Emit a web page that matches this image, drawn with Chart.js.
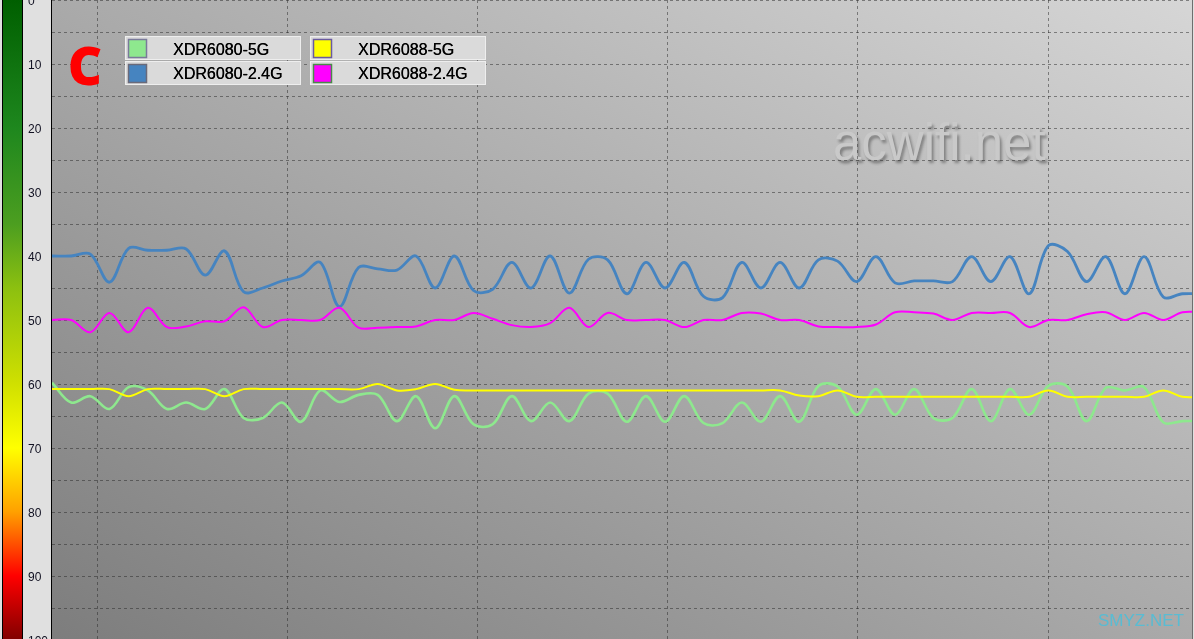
<!DOCTYPE html>
<html>
<head>
<meta charset="utf-8">
<title>Signal strength</title>
<script src="https://cdn.jsdelivr.net/npm/chart.js@4.4.1/dist/chart.umd.min.js"></script>
<style>
  html, body { margin: 0; padding: 0; background: #e0e0e0; overflow: hidden; }
  #wrap { width: 1194px; height: 639px; overflow: hidden; }
  canvas { display: block; }
</style>
</head>
<body>
<div id="wrap"><canvas id="signal-chart" width="1194" height="640"></canvas></div>
<script>
// Sample number along the x axis (one scan each)
const samples = [0, 1, 2, 3, 4, 5, 6, 7, 8, 9, 10, 11, 12, 13, 14, 15, 16, 17, 18, 19,
  20, 21, 22, 23, 24, 25, 26, 27, 28, 29, 30, 31, 32, 33, 34, 35, 36, 37, 38, 39,
  40, 41, 42, 43, 44, 45, 46, 47, 48, 49, 50, 51, 52, 53, 54, 55, 56, 57, 58, 59, 60];

// Signal level (-dBm)
const xdr6080_5g = [59.8, 62.9, 61.9, 63.9, 60.5, 61.0, 63.9, 62.9, 63.9, 60.8,
  65.3, 65.3, 62.9, 65.9, 61.0, 62.8, 61.7, 61.7, 65.8, 61.9,
  66.9, 61.9, 66.3, 66.3, 61.9, 65.8, 62.9, 65.8, 61.5, 61.5,
  65.9, 61.9, 65.9, 61.9, 66.1, 66.1, 62.9, 65.9, 61.9, 65.9,
  60.3, 60.4, 64.8, 60.8, 64.8, 60.8, 65.3, 65.3, 60.8, 65.8,
  60.8, 64.8, 60.3, 60.4, 65.8, 60.6, 61.0, 60.5, 66.0, 65.8, 65.8];

const xdr6080_24g = [40.0, 40.0, 39.7, 44.1, 38.8, 39.1, 39.1, 38.9, 43.0, 39.2,
  45.6, 45.0, 43.9, 43.1, 41.0, 47.9, 41.8, 42.0, 42.2, 40.0,
  45.0, 40.0, 45.4, 45.2, 41.0, 45.0, 40.0, 45.8, 40.5, 40.6,
  45.9, 41.0, 45.0, 41.0, 46.3, 46.5, 41.0, 45.0, 41.0, 45.0,
  40.6, 40.8, 44.0, 40.1, 44.2, 43.9, 43.9, 44.0, 40.1, 44.0,
  40.1, 45.9, 38.4, 39.3, 44.0, 40.1, 45.9, 40.1, 46.4, 45.9, 45.9];

const xdr6088_5g = [60.8, 60.8, 60.8, 60.8, 61.9, 60.8, 60.8, 60.8, 60.8, 61.9,
  60.8, 60.8, 60.8, 60.8, 60.8, 60.8, 60.8, 60.0, 61.0, 60.8,
  60.0, 60.9, 61.0, 61.0, 61.0, 61.0, 61.0, 61.0, 61.0, 61.0,
  61.0, 61.0, 61.0, 61.0, 61.0, 61.0, 61.0, 61.0, 61.0, 61.8,
  61.9, 61.0, 62.0, 62.0, 62.0, 62.0, 62.0, 62.0, 62.0, 62.0,
  62.0, 62.0, 61.0, 62.0, 62.0, 62.0, 62.0, 62.0, 61.0, 62.0, 62.0];

const xdr6088_24g = [50.0, 50.0, 51.9, 48.9, 51.9, 48.1, 51.1, 51.0, 50.2, 50.2,
  48.0, 51.1, 50.0, 50.0, 50.0, 48.1, 51.2, 51.2, 51.1, 51.0,
  50.0, 50.0, 48.9, 49.8, 50.8, 51.1, 50.5, 48.1, 51.1, 48.9,
  50.0, 50.0, 50.0, 51.1, 50.0, 50.0, 48.9, 49.0, 50.0, 50.0,
  51.0, 51.1, 51.1, 50.7, 48.8, 48.8, 49.0, 50.0, 48.9, 48.9,
  48.9, 51.1, 50.0, 50.0, 49.1, 48.8, 50.0, 48.9, 50.0, 48.8, 48.8];

const seriesNames = ['XDR6080-5G', 'XDR6080-2.4G', 'XDR6088-5G', 'XDR6088-2.4G'];

// Axis ticks
const yGridValues = [0, 5, 10, 15, 20, 25, 30, 35, 40, 45, 50, 55, 60, 65, 70, 75, 80, 85, 90, 95, 100];
const yTickLabels = [0, 10, 20, 30, 40, 50, 60, 70, 80, 90, 100];
const xGridValues = [2.35, 12.27, 22.19, 32.11, 42.04, 52.01];

const FONT = "'Liberation Sans', Arial, sans-serif";

function makeLine(label, data, color, width, order) {
  return {
    label: label,
    data: data,
    borderColor: color,
    backgroundColor: color,
    borderWidth: width,
    pointRadius: 0,
    pointHoverRadius: 0,
    tension: 0.35,
    fill: false,
    order: order
  };
}

// Background: level bar, grey panel, shaded plot and watermark
const backdrop = {
  id: 'backdrop',
  beforeDraw(chart) {
    const ctx = chart.ctx;
    const a = chart.chartArea;
    ctx.save();
    ctx.fillStyle = '#e0e0e0';
    ctx.fillRect(0, 0, chart.width, chart.height);

    // colour scale bar on the far left
    const bar = ctx.createLinearGradient(0, 0, 0, 640);
    bar.addColorStop(0, '#005f00');
    bar.addColorStop(0.2, '#1e871e');
    bar.addColorStop(0.35, '#4c9e20');
    bar.addColorStop(0.45, '#8cc010');
    bar.addColorStop(0.6, '#d0e000');
    bar.addColorStop(0.7, '#ffff00');
    bar.addColorStop(0.8, '#ffa000');
    bar.addColorStop(0.9, '#ff0000');
    bar.addColorStop(1, '#800000');
    ctx.fillStyle = bar;
    ctx.fillRect(2, 0, 21, 640);
    ctx.strokeStyle = '#000';
    ctx.lineWidth = 1;
    ctx.strokeRect(2.5, -1, 20, 642);

    // diagonal shading of the plot area
    const w = a.right - a.left, h = a.bottom - a.top;
    const cx = (a.left + a.right) / 2, cy = (a.top + a.bottom) / 2;
    const k = (w * h) / (w * w + h * h);
    const bg = ctx.createLinearGradient(cx - k * h, cy + k * w, cx + k * h, cy - k * w);
    bg.addColorStop(0, '#7d7d7d');
    bg.addColorStop(1, '#d6d6d6');
    ctx.fillStyle = bg;
    ctx.fillRect(a.left, a.top, w, h);

    // watermark
    ctx.font = '51px ' + FONT;
    ctx.textBaseline = 'alphabetic';
    ctx.textAlign = 'left';
    ctx.shadowColor = 'rgba(60,60,60,0.5)';
    ctx.shadowOffsetX = 2;
    ctx.shadowOffsetY = 3;
    ctx.shadowBlur = 3;
    ctx.fillStyle = '#c9c9c9';
    ctx.fillText('acwifi.net', 833, 160);
    ctx.restore();
  },
  afterDraw(chart) {
    const ctx = chart.ctx;
    const a = chart.chartArea;
    ctx.save();
    // plot frame
    ctx.strokeStyle = '#000';
    ctx.lineWidth = 1;
    ctx.beginPath();
    ctx.moveTo(a.left - 0.5, 0);
    ctx.lineTo(a.left - 0.5, chart.height);
    ctx.stroke();
    ctx.strokeStyle = '#6e6e6e';
    ctx.beginPath();
    ctx.moveTo(a.right + 0.5, 0);
    ctx.lineTo(a.right + 0.5, chart.height);
    ctx.stroke();

    // big red letter
    ctx.fillStyle = '#ff0000';
    ctx.font = "800 53px 'Open Sans', " + FONT;
    ctx.textAlign = 'center';
    ctx.textBaseline = 'alphabetic';
    ctx.fillText('C', 85, 85);

    // legend, two columns of two rows
    const cols = [{ box: 125, sw: 128, text: 173 }, { box: 310, sw: 313, text: 358 }];
    const rows = [{ top: 36, base: 55 }, { top: 61, base: 79 }];
    const swatchEdge = ['#7a7a9a', '#6a6a7a', '#6a5aa0', '#4a8a4a'];
    const boxW = 176, boxH = 24;
    chart.data.datasets.forEach((ds, i) => {
      const c = cols[Math.floor(i / 2)];
      const r = rows[i % 2];
      ctx.fillStyle = '#dadada';
      ctx.fillRect(c.box, r.top, boxW, boxH);
      ctx.strokeStyle = '#eeeeee';
      ctx.strokeRect(c.box + 0.5, r.top + 0.5, boxW - 1, boxH - 1);
      ctx.fillStyle = ds.borderColor;
      ctx.fillRect(c.sw, r.top + 3, 19, 19);
      ctx.strokeStyle = swatchEdge[i];
      ctx.lineWidth = 1.5;
      ctx.strokeRect(c.sw + 0.5, r.top + 3.5, 18, 18);
      ctx.lineWidth = 1;
      ctx.fillStyle = '#000';
      ctx.font = '16px ' + FONT;
      ctx.textAlign = 'left';
      ctx.fillText(ds.label, c.text, r.base);
      ctx.fillText(ds.label, c.text + 0.3, r.base);
    });

    // corner mark
    ctx.fillStyle = 'rgba(80,190,215,0.9)';
    ctx.font = '17px ' + FONT;
    ctx.fillText('SMYZ.NET', 1098, 626);
    ctx.restore();
  }
};

const ctx = document.getElementById('signal-chart').getContext('2d');
new Chart(ctx, {
  type: 'line',
  data: {
    labels: samples,
    datasets: [
      makeLine(seriesNames[0], xdr6080_5g, '#8ee88e', 2.6, 3),
      makeLine(seriesNames[1], xdr6080_24g, '#4684c0', 2.8, 2),
      makeLine(seriesNames[2], xdr6088_5g, '#ffff00', 2, 0),
      makeLine(seriesNames[3], xdr6088_24g, '#ff00ff', 2, 1)
    ]
  },
  options: {
    responsive: false,
    animation: false,
    devicePixelRatio: 1,
    layout: { padding: { left: 28, right: 2, top: 0, bottom: 0 } },
    plugins: {
      legend: { display: false },
      tooltip: { enabled: false }
    },
    scales: {
      x: {
        type: 'linear',
        min: 0,
        max: 59.5,
        border: { display: false, dash: [3, 3] },
        grid: { color: 'rgba(40,40,40,0.5)', lineWidth: 1, drawTicks: false },
        ticks: { display: false },
        afterBuildTicks: s => { s.ticks = xGridValues.map(v => ({ value: v })); },
        afterFit: s => { s.height = 0; s.paddingLeft = 0; s.paddingRight = 0; }
      },
      y: {
        type: 'linear',
        reverse: true,
        min: 0,
        max: 100,
        border: { display: false, dash: [3, 3] },
        grid: { color: 'rgba(40,40,40,0.5)', lineWidth: 1, drawTicks: false },
        ticks: {
          autoSkip: false,
          crossAlign: 'far',
          padding: 0,
          labelOffset: 2,
          color: '#111122',
          font: { family: FONT, size: 12 },
          callback: v => yTickLabels.includes(v) ? String(v) : ''
        },
        afterBuildTicks: s => { s.ticks = yGridValues.map(v => ({ value: v })); },
        afterFit: s => { s.width = 24; s.paddingTop = 0; s.paddingBottom = 0; }
      }
    }
  },
  plugins: [backdrop]
});
</script>
</body>
</html>
